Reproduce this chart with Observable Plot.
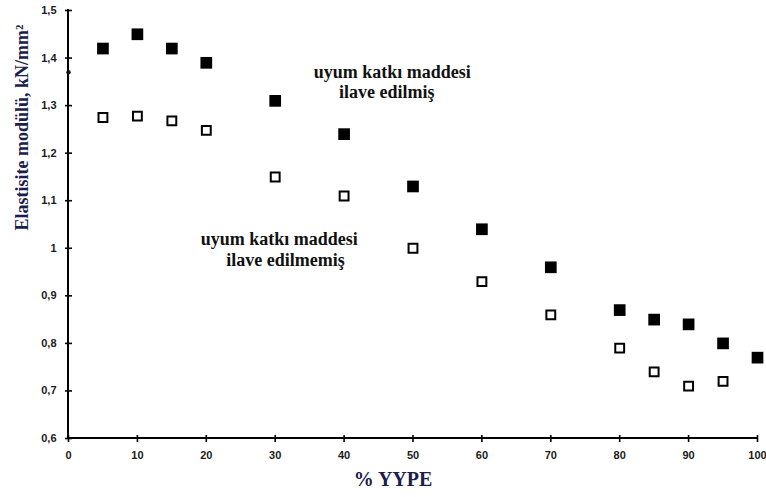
<!DOCTYPE html>
<html>
<head>
<meta charset="utf-8">
<script src="https://cdn.jsdelivr.net/npm/d3@7"></script>
<script src="https://cdn.jsdelivr.net/npm/@observablehq/plot@0.6"></script>
<style>
  html, body { margin: 0; padding: 0; background: #fff; }
</style>
</head>
<body>
<div id="chart"></div>
<script>
// YYPE percentages and elastic modulus values (kN/mm²)
const xWith = [5, 10, 15, 20, 30, 40, 50, 60, 70, 80, 85, 90, 95, 100];
const yWith = [1.42, 1.45, 1.42, 1.39, 1.31, 1.24, 1.13, 1.04, 0.96, 0.87, 0.85, 0.84, 0.80, 0.77];
const xWithout = [5, 10, 15, 20, 30, 40, 50, 60, 70, 80, 85, 90, 95];
const yWithout = [1.275, 1.278, 1.268, 1.248, 1.15, 1.11, 1.0, 0.93, 0.86, 0.79, 0.74, 0.71, 0.72];
const xTicks = [0, 10, 20, 30, 40, 50, 60, 70, 80, 90, 100];
const yTicks = [0.6, 0.7, 0.8, 0.9, 1.0, 1.1, 1.2, 1.3, 1.4, 1.5];
const axisDot = [{x: 0, y: 1.37}];
const annoText = ["uyum katkı maddesi", "ilave edilmiş", "uyum katkı maddesi", "ilave edilmemiş"];
const annoX = [47.0, 46.2, 30.6, 31.5];
const annoY = [1.37, 1.328, 1.018, 0.974];
const xLabel = "% YYPE";
const yLabel = "Elastisite modülü, kN/mm²";

const withData = xWith.map((x, i) => ({x, y: yWith[i]}));
const withoutData = xWithout.map((x, i) => ({x, y: yWithout[i]}));
const annos = annoText.map((t, i) => ({t, x: annoX[i], y: annoY[i]}));
const fmt = d => String(Math.round(d * 10) / 10).replace(".", ",");

const sansFont = "Arial, 'Liberation Sans', sans-serif";
const serifFont = "'Times New Roman', 'Liberation Serif', serif";
const labelColor = "#1b1d4a";
// filled tick glyphs (vertical bar for x ticks, horizontal bar for y ticks)
const vTick = {draw(ctx) { ctx.rect(-0.8, -3.5, 1.6, 7); }};
const hTick = {draw(ctx) { ctx.rect(-3.5, -0.8, 7, 1.6); }};

const plotEl = Plot.plot({
  width: 766,
  height: 497,
  marginLeft: 68,
  marginRight: 9,
  marginTop: 10,
  marginBottom: 59,
  style: {background: "white"},
  x: {domain: [0, 100]},
  y: {domain: [0.6, 1.5]},
  marks: [
    Plot.axisY({ticks: yTicks, tickSize: 0, tickPadding: 12, tickFormat: fmt, label: null,
      fontSize: 11, fontWeight: "bold", fontFamily: sansFont, fill: "#1a1a1a"}),
    Plot.axisX({ticks: xTicks, tickSize: 0, tickPadding: 13, tickFormat: d => String(d), label: null,
      fontSize: 11, fontWeight: "bold", fontFamily: sansFont, fill: "#1a1a1a"}),
    Plot.rect([0], {x1: 0, x2: 0, y1: 0.6, y2: 1.5, insetLeft: -1, insetRight: -1, insetTop: -1, insetBottom: -1, fill: "#000"}),
    Plot.rect([0], {x1: 0, x2: 100, y1: 0.6, y2: 0.6, insetTop: -1, insetBottom: -1, insetLeft: -1, insetRight: -1, fill: "#000"}),
    Plot.dot(xTicks, {x: d => d, y: 0.6, symbol: vTick, r: 3, fill: "#000", stroke: "none"}),
    Plot.dot(yTicks, {x: 0, y: d => d, symbol: hTick, r: 3, fill: "#000", stroke: "none"}),
    Plot.dot(axisDot, {x: "x", y: "y", r: 2.2, fill: "#111", stroke: "none"}),
    Plot.dot(withData, {x: "x", y: "y", symbol: "square", r: 6.6, fill: "#000", stroke: "none"}),
    Plot.dot(withoutData, {x: "x", y: "y", symbol: "square", r: 5.0, fill: "white", stroke: "#000", strokeWidth: 2}),
    Plot.text(annos, {x: "x", y: "y", text: "t", fontSize: 18, fontWeight: "bold", fontFamily: serifFont, fill: "#111"}),
    Plot.text([xLabel], {text: d => d, frameAnchor: "bottom", dx: -20, dy: 47,
      fontSize: 20, fontWeight: "bold", fontFamily: serifFont, fill: labelColor}),
    Plot.text([yLabel], {text: d => d, frameAnchor: "left", rotate: -90, dx: -46, dy: 6,
      fontSize: 18, fontWeight: "bold", fontFamily: serifFont, fill: labelColor})
  ]
});

document.getElementById("chart").appendChild(plotEl);
</script>
</body>
</html>
